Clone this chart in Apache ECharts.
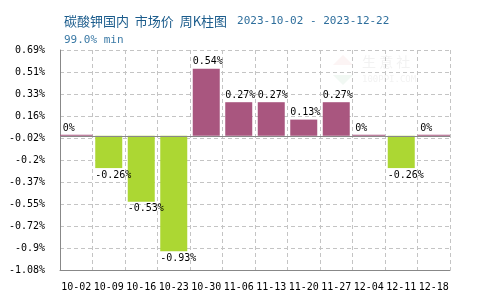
<!DOCTYPE html>
<html><head><meta charset="utf-8">
<script src="https://cdn.jsdelivr.net/npm/echarts@6/dist/echarts.min.js"></script>
<style>html,body{margin:0;padding:0;background:#fff}#c{width:500px;height:300px}</style>
</head><body><div id="c"></div>
<script>
var categories = ['10-02','10-09','10-16','10-23','10-30','11-06','11-13','11-20','11-27','12-04','12-11','12-18'];
var values = [0, -0.26, -0.53, -0.93, 0.54, 0.27, 0.27, 0.13, 0.27, 0, -0.26, 0];
var yTickLabels = ['-1.08','-0.9','-0.72','-0.55','-0.37','-0.2','-0.02','0.16','0.33','0.51','0.69'];
var yMin = -1.08, yMax = 0.69;
var yInterval = 0.177;

var UP = '#a9567f', DOWN = '#acd733';
var mono = '"DejaVu Sans Mono", "Liberation Mono", monospace';

var mainData = values.map(function (v) {
  if (v === 0) return '-';
  return { value: v, itemStyle: { color: v > 0 ? UP : DOWN },
           label: { position: v > 0 ? 'top' : 'bottom' } };
});
var zeroData = values.map(function (v) { return v === 0 ? 0 : '-'; });

var chart = echarts.init(document.getElementById('c'), null, { renderer: 'canvas' });
chart.setOption({
  animation: false,
  title: {
    left: 59, top: 7,
    text: '{a|碳酸钾国内  市场价  周K柱图}  {b|2023-10-02 - 2023-12-22}',
    subtext: '99.0% min',
    itemGap: 5,
    textStyle: { fontWeight: 'normal', rich: {
      a: { fontFamily: '"Noto Sans CJK SC", sans-serif', fontSize: 13, fontWeight: 'normal', color: '#1b5c8c' },
      b: { fontFamily: mono, fontSize: 11, fontWeight: 'normal', color: '#2e6e9c' }
    } },
    subtextStyle: { fontFamily: mono, fontSize: 11, color: '#3b7aa6' }
  },
  grid: { left: 60, right: 50, top: 50, bottom: 30 },
  xAxis: [{
    type: 'category', data: categories,
    axisLine: { onZero: false, lineStyle: { color: '#888' } },
    axisTick: { show: false },
    axisLabel: { interval: 0, margin: 12, color: '#000', fontFamily: mono, fontSize: 10 },
    splitLine: { show: true, interval: 0, lineStyle: { color: '#c4c4c4', type: [4, 3] } }
  }, {
    type: 'category', data: categories, show: false
  }],
  yAxis: {
    type: 'value', min: yMin, max: yMax, interval: yInterval,
    axisLine: { show: true, lineStyle: { color: '#888' } },
    axisTick: { show: false },
    axisLabel: { margin: 15, color: '#000', fontFamily: mono, fontSize: 10,
      formatter: function (v) {
        var i = Math.round((v - yMin) / yInterval);
        return (yTickLabels[i] !== undefined ? yTickLabels[i] : v) + '%';
      } },
    splitLine: { lineStyle: { color: '#c4c4c4', type: [4, 3] } }
  },
  graphic: [
    { type: 'polygon', silent: true, z: 0, shape: { points: [[343,55],[353,65],[333,65]] }, style: { fill: 'rgba(230,150,150,0.10)' } },
    { type: 'polygon', silent: true, z: 0, shape: { points: [[333,75],[353,75],[343,85]] }, style: { fill: 'rgba(120,190,140,0.10)' } },
    { type: 'text', silent: true, z: 0, left: 362, top: 55, style: { text: '生 意 社', fontSize: 14, fontFamily: '"Noto Sans CJK SC", sans-serif', fill: 'rgba(190,190,190,0.2)' } },
    { type: 'text', silent: true, z: 0, left: 362, top: 75, style: { text: '100PPI.COM', fontSize: 9, fontFamily: mono, fill: 'rgba(190,190,190,0.2)' } }
  ],
  series: [{
    type: 'line', data: [], z: 1, silent: true,
    markLine: { silent: true, symbol: 'none', label: { show: false },
      lineStyle: { color: '#888', type: 'solid', width: 1 },
      data: [{ yAxis: 0 }] }
  }, {
    type: 'bar', data: mainData, barWidth: 27, z: 3,
    label: { show: true, align: 'left', offset: [-13.5, 0], distance: 2,
      fontFamily: mono, fontSize: 10, color: '#000',
      formatter: function (p) { return p.value + '%'; } }
  }, {
    type: 'bar', xAxisIndex: 1, data: zeroData, barWidth: '100%', barMinHeight: 1, z: 5,
    itemStyle: { color: UP },
    label: { show: true, position: 'top', align: 'left', offset: [-13.5, 0], distance: 1,
      fontFamily: mono, fontSize: 10, color: '#000',
      formatter: function (p) { return p.value + '%'; } }
  }]
});
</script></body></html>
